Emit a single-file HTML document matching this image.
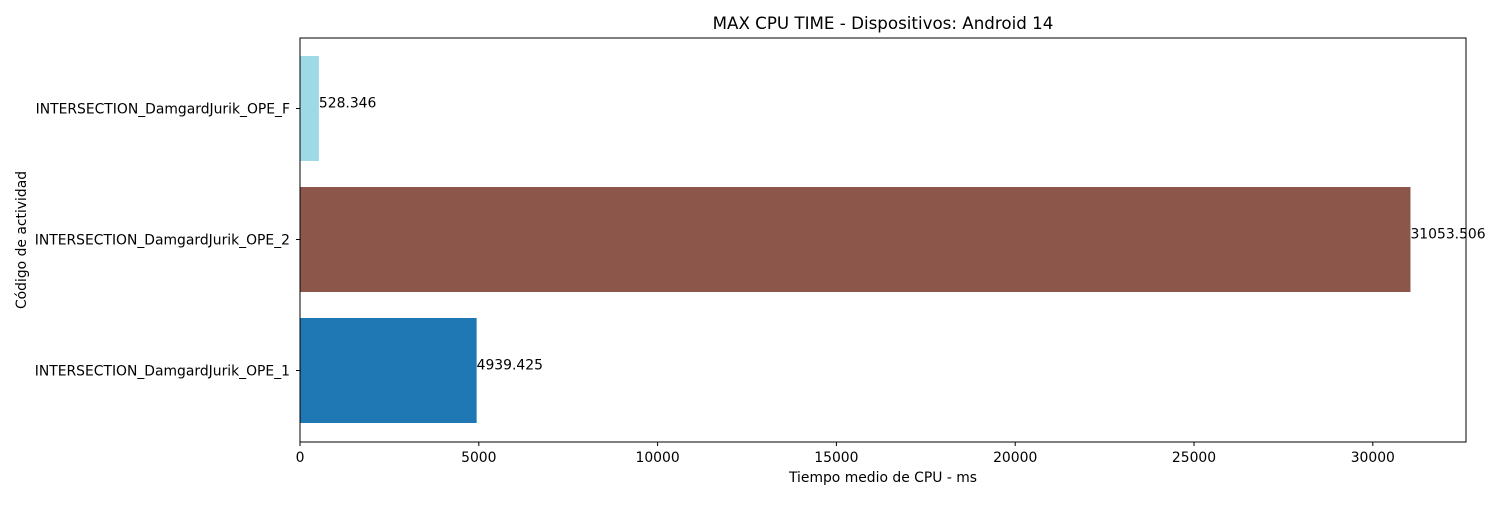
<!DOCTYPE html>
<html><head><meta charset="utf-8"><style>
body{margin:0;background:#fff;}
svg text{font-family:"DejaVu Sans","Liberation Sans",sans-serif;fill:#000;}
</style></head><body>
<svg id="chart" width="1500" height="500" xmlns="http://www.w3.org/2000/svg">
<rect x="0" y="0" width="1500" height="500" fill="#fff"/>
<g id="plot"></g>
<rect x="300" y="38" width="1166" height="404" fill="none" stroke="#000" stroke-width="1"/>
<text x="883" y="29" font-size="16.7" text-anchor="middle">MAX CPU TIME - Dispositivos: Android 14</text>
<text x="883" y="482" font-size="13.9" text-anchor="middle">Tiempo medio de CPU - ms</text>
<text x="0" y="0" font-size="13.9" text-anchor="middle" transform="translate(26,240) rotate(-90)">Código de actividad</text>
</svg>
<script>
const categories=["INTERSECTION_DamgardJurik_OPE_1","INTERSECTION_DamgardJurik_OPE_2","INTERSECTION_DamgardJurik_OPE_F"];
const values=[4939.425,31053.506,528.346];
const labels=["4939.425","31053.506","528.346"];
const colors=["#1f77b4","#8c564b","#9edae5"];
const xTicks=[0,5000,10000,15000,20000,25000,30000];
const L=300,R=1466,T=38,B=442;
const xmax=Math.max(...values)*1.05;
const x=v=>L+(v/xmax)*(R-L);
const y=i=>370.5-i*131;
const g=document.getElementById('plot');
const NS="http://www.w3.org/2000/svg";
function mk(t,a){const e=document.createElementNS(NS,t);for(const k in a)e.setAttribute(k,a[k]);g.appendChild(e);return e;}
values.forEach((v,i)=>{
  const r=mk('rect',{x:L,y:y(i)-52.5,width:x(v)-L,height:105,fill:colors[i]});
  
  
  const t=mk('text',{x:x(v),y:y(i)-1,'font-size':13.9});
  t.textContent=labels[i];
  
  
  const tk=mk('line',{x1:L-4,x2:L,y1:y(i),y2:y(i),stroke:'#000'});
  
  
  const tl=mk('text',{x:L-10,y:y(i)+5,'font-size':13.9,'text-anchor':'end'});
  tl.textContent=categories[i];
  
  
});
xTicks.forEach(v=>{
  const tk=mk('line',{x1:x(v),x2:x(v),y1:B,y2:B+4,stroke:'#000'});
  
  
  const tl=mk('text',{x:x(v),y:B+20,'font-size':13.9,'text-anchor':'middle'});
  tl.textContent=String(v);
  
  
});
</script>
</body></html>
